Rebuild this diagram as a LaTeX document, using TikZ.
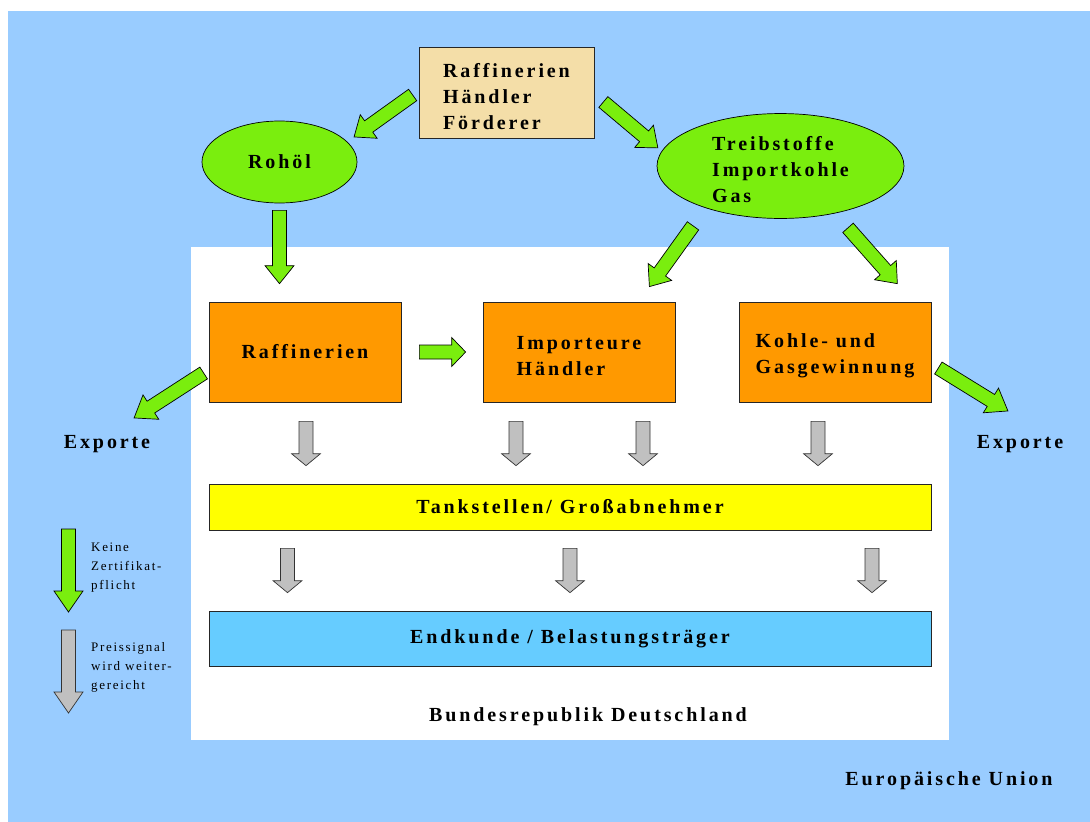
\documentclass[tikz,border=0pt]{standalone}
\usepackage{fontspec}
\usepackage{tikz}
\usetikzlibrary{calc, shapes.geometric}
\newfontfamily\lblfont{Liberation Serif}[LetterSpace=14.5]
\newfontfamily\keyfont{Liberation Serif}[LetterSpace=13]
\definecolor{eublue}{RGB}{153,204,255}
\definecolor{sand}{RGB}{244,222,168}
\definecolor{leafgreen}{RGB}{122,238,14}
\definecolor{amber}{RGB}{255,153,0}
\definecolor{skyblue}{RGB}{102,204,255}
\definecolor{signalgrey}{RGB}{192,192,192}
\definecolor{lemon}{RGB}{255,255,0}

% block arrow: style, head length, from, to
\newcommand{\fatarrow}[4]{%
  \path #3; \pgfgetlastxy{\fax}{\fay}%
  \path #4; \pgfgetlastxy{\fbx}{\fby}%
  \pgfmathsetmacro{\faang}{atan2(\fby-\fay,\fbx-\fax)}%
  \pgfmathsetmacro{\falen}{veclen(\fbx-\fax,\fby-\fay)}%
  \draw[#1, shift={(\fax,\fay)}, rotate=\faang]
    (0,-7) -- ({\falen-#2},-7) -- ({\falen-#2},-14.5) -- (\falen,0)
    -- ({\falen-#2},14.5) -- ({\falen-#2},7) -- (0,7) -- cycle;}

\begin{document}
\begin{tikzpicture}[x=1pt, y=-1pt,
  label/.style={font=\lblfont\bfseries\fontsize{20}{26}\selectfont, align=left, inner sep=0pt},
  flowbox/.style={label, draw=black!85, line width=0.7pt, minimum width=192pt, minimum height=100pt, fill=amber},
  bar/.style={label, draw=black!85, line width=0.7pt, minimum width=722pt},
  blob/.style={label, ellipse, draw=black, line width=0.7pt, fill=leafgreen},
  legend/.style={font=\keyfont\fontsize{13}{19}\selectfont, align=left, inner sep=0pt, anchor=west},
  greenarr/.style={fill=leafgreen, draw=black, line width=0.7pt},
  greyarr/.style={fill=signalgrey, draw=black!80, line width=0.7pt}]
  \useasboundingbox (0,0) rectangle (1090,822);
  \fill[eublue] (8,11) rectangle (1090,822);
  \fill[white] (191,247) rectangle (949,740);

  % sources outside
  \node[label, draw=black!85, line width=0.7pt, fill=sand, minimum width=175pt, minimum height=91pt] (src) at (506.5,92.5) {\rule{0pt}{22pt}Raffinerien\\Händler\\Förderer};
  \node[blob, minimum width=155pt, minimum height=82pt] (rohoel) at (279.5,162) {Rohöl};
  \node[blob, minimum width=247pt, minimum height=90pt] (treib) at (780.5,166) {\rule{0pt}{22pt}Treibstoffe\\Importkohle\\Gas};

  % inside Germany
  \node[flowbox] (raff) at (305,352) {Raffinerien};
  \node[flowbox] (imp) at (579,352) {\rule{0pt}{22pt}Importeure\\Händler};
  \node[flowbox] (kohle) at (835,352) {\rule{0pt}{22pt}Kohle- und\\Gasgewinnung};
  \node[bar, fill=lemon, minimum height=46pt] (tank) at (570,507) {Tankstellen/ Großabnehmer};
  \node[bar, fill=skyblue, minimum height=55pt] (end) at (570,638.5) {Endkunde / Belastungsträger};

  \node[label] (expL) at (107,444) {Exporte};
  \node[label] (expR) at (1020,444) {Exporte};
  \node[label] (brd) at (588,717) {Bundesrepublik Deutschland};
  \node[label] (eu) at (949,781) {Europäische Union};

  % green arrows
  \fatarrow{greenarr}{18}{($(src.west)+(-6,2.5)$)}{($(rohoel.center)+(74.5,-25)$)}
  \fatarrow{greenarr}{18}{($(src.east)+(9,9.5)$)}{($(treib.center)+(-122.5,-18)$)}
  \fatarrow{greenarr}{18}{($(rohoel.south)+(0,7)$)}{($(rohoel.south |- raff.north)+(0,-18)$)}
  \fatarrow{greenarr}{18}{($(treib.south)+(-87.5,7)$)}{($(imp.north east)+(-26,-15)$)}
  \fatarrow{greenarr}{18}{($(treib.south)+(67.5,9)$)}{($(kohle.north east)+(-34,-18)$)}
  \fatarrow{greenarr}{14}{($(raff.east)+(18,0)$)}{($(imp.west)+(-17,0)$)}
  \fatarrow{greenarr}{20}{($(raff.west)+(-5,21)$)}{($(expL)+(27,-26)$)}
  \fatarrow{greenarr}{20}{($(kohle.east)+(7,16)$)}{($(expR)+(-12,-33)$)}

  % grey arrows
  \fatarrow{greyarr}{12}{($(raff.south)+(1,19)$)}{($(raff.south |- tank.north)+(1,-18)$)}
  \fatarrow{greyarr}{12}{($(imp.south)+(-63,19)$)}{($(imp.south |- tank.north)+(-63,-18)$)}
  \fatarrow{greyarr}{12}{($(imp.south)+(64,19)$)}{($(imp.south |- tank.north)+(64,-18)$)}
  \fatarrow{greyarr}{12}{($(kohle.south)+(-17,19)$)}{($(kohle.south |- tank.north)+(-17,-18)$)}
  \fatarrow{greyarr}{12}{($(tank.south)+(-282.5,18)$)}{($(tank.south |- end.north)+(-282.5,-18)$)}
  \fatarrow{greyarr}{12}{($(tank.south)+(0,18)$)}{($(tank.south |- end.north)+(0,-18)$)}
  \fatarrow{greyarr}{12}{($(tank.south)+(302,18)$)}{($(tank.south |- end.north)+(302,-18)$)}

  % legend
  \fatarrow{greenarr}{21}{(68.5,529)}{(68.5,612)}
  \fatarrow{greyarr}{21}{(68.5,630)}{(68.5,713)}
  \node[legend] (keyg) at (91,568) {Keine\\Zertifikat-\\pflicht};
  \node[legend] (keyp) at (91,667) {Preissignal\\wird weiter-\\gereicht};
\end{tikzpicture}
\end{document}
